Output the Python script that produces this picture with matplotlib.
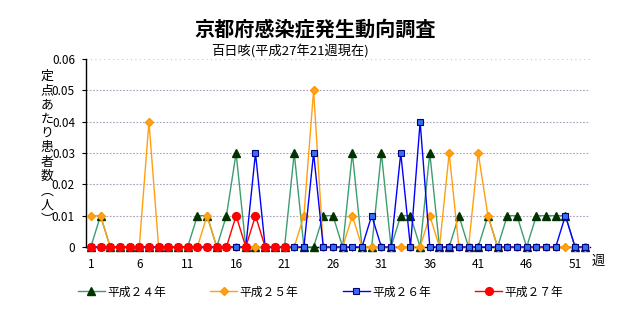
import matplotlib
matplotlib.use('Agg')
import matplotlib.pyplot as plt

plt.rcParams['font.family'] = ['Noto Sans CJK JP', 'DejaVu Sans']

weeks = list(range(1, 53))
h24 = [0, 0.01, 0, 0, 0, 0, 0, 0, 0, 0,
       0, 0.01, 0.01, 0, 0.01, 0.03, 0, 0, 0, 0,
       0, 0.03, 0, 0, 0.01, 0.01, 0, 0.03, 0, 0,
       0.03, 0, 0.01, 0.01, 0, 0.03, 0, 0, 0.01, 0,
       0, 0.01, 0, 0.01, 0.01, 0, 0.01, 0.01, 0.01, 0.01,
       0, 0]
h25 = [0.01, 0.01, 0, 0, 0, 0, 0.04, 0, 0, 0,
       0, 0, 0.01, 0, 0, 0, 0, 0, 0, 0,
       0, 0, 0.01, 0.05, 0, 0, 0, 0.01, 0, 0,
       0, 0, 0, 0, 0, 0.01, 0, 0.03, 0, 0,
       0.03, 0.01, 0, 0, 0, 0, 0, 0, 0, 0,
       0, 0]
h26 = [0, 0, 0, 0, 0, 0, 0, 0, 0, 0,
       0, 0, 0, 0, 0, 0, 0, 0.03, 0, 0,
       0, 0, 0, 0.03, 0, 0, 0, 0, 0, 0.01,
       0, 0, 0.03, 0, 0.04, 0, 0, 0, 0, 0,
       0, 0, 0, 0, 0, 0, 0, 0, 0, 0.01,
       0, 0]
h27 = [0, 0, 0, 0, 0, 0, 0, 0, 0, 0,
       0, 0, 0, 0, 0, 0.01, 0, 0.01, 0, 0,
       0]

series_labels = ['平成２４年', '平成２５年', '平成２６年', '平成２７年']
x_tick_values = [1, 6, 11, 16, 21, 26, 31, 36, 41, 46, 51]
x_tick_labels = ['1', '6', '11', '16', '21', '26', '31', '36', '41', '46', '51']
y_tick_values = [0, 0.01, 0.02, 0.03, 0.04, 0.05, 0.06]
y_tick_labels = ['0', '0.01', '0.02', '0.03', '0.04', '0.05', '0.06']

title = '京都府感染症発生動向調査'
subtitle = '百日咳(平成27年21週現在)'
ylabel_chars = ['定', '点', 'あ', 'た', 'り', '患', '者', '数', '︵', '人', '︶']

W, H = 644, 310
fig = plt.figure(figsize=(W / 100, H / 100), dpi=100)
ax = fig.add_axes([86 / W, 63 / H, 503.6 / W, 188 / H])

# grid
for v in y_tick_values[1:-1]:
    ax.axhline(v, color='#a8a0bc', lw=0.8, ls=(0, (1.5, 1.5)), zorder=0)
ax.axhline(0.06, color='#c4c4c4', lw=0.8, ls=(0, (1, 3)), zorder=0)

styles = [
    dict(color='#3d9d70', marker='^', ms=5.5, mfc='#003300', mec='#003300', lw=1.0),
    dict(color='#FFA010', marker='D', ms=4.0, mfc='#FFA020', mec='#FF9900', lw=1.0),
    dict(color='#0000FF', marker='s', ms=5.0, mfc='#3370F0', mec='#000080', mew=0.8, lw=1.0),
    dict(color='#FF0000', marker='o', ms=5.6, mfc='#FF0000', mec='#FF0000', lw=1.0),
]
data = [h24, h25, h26, h27]
handles = []
for i, (vals, st) in enumerate(zip(data, styles)):
    ln, = ax.plot(weeks[:len(vals)], vals, clip_on=False, zorder=3 + i, label=series_labels[i], **st)
    handles.append(ln)

ax.set_xlim(0.5, 52.5)
ax.set_ylim(0, 0.06)
ax.set_xticks(weeks)
ax.set_xticklabels([x_tick_labels[x_tick_values.index(w)] if w in x_tick_values else '' for w in weeks])
ax.set_yticks(y_tick_values)
ax.set_yticklabels(y_tick_labels)
ax.tick_params(axis='x', direction='out', length=3, width=0.8, pad=5, labelsize=8.5)
ax.tick_params(axis='y', direction='out', length=3, width=0.8, pad=5, labelsize=8.5)
for s in ['top', 'right']:
    ax.spines[s].set_visible(False)
for s in ['left', 'bottom']:
    ax.spines[s].set_color('black')
    ax.spines[s].set_linewidth(1.0)

fig.text(315 / W, 1 - 29 / H, title, ha='center', va='center', fontsize=14.5, fontweight='bold')
fig.text(211 / W, 1 - 51 / H, subtitle, ha='left', va='center', fontsize=9.5)
fig.text(47 / W, 1 - 148 / H, '\n'.join(ylabel_chars), ha='center', va='center', fontsize=9.3, linespacing=1.13)
fig.text(598 / W, 1 - 261 / H, '週', ha='center', va='center', fontsize=9.5)

fig.legend(handles, series_labels, loc='center', bbox_to_anchor=(320.5 / W, 18 / H), ncol=4,
           frameon=False, handlelength=2.3, handletextpad=0.2, columnspacing=3.75, fontsize=8.5,
           borderpad=0, borderaxespad=0)

fig.savefig('out.png', dpi=100)
